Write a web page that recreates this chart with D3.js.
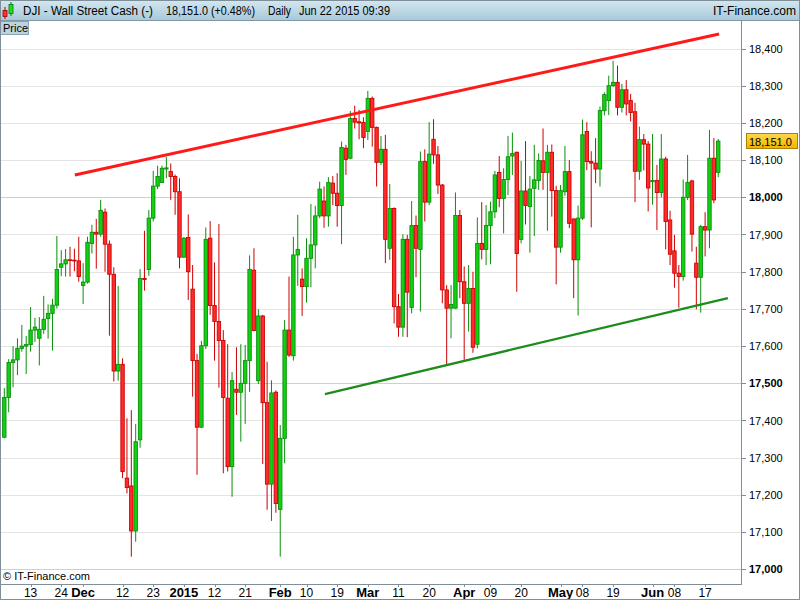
<!DOCTYPE html>
<html>
<head>
<meta charset="utf-8">
<script src="https://cdn.jsdelivr.net/npm/d3@7"></script>
<style>
html,body{margin:0;padding:0;background:#fff;}
svg{display:block;font-family:Arial,"Liberation Sans",sans-serif;}
</style>
</head>
<body>
<svg id="chart" width="800" height="600"></svg>
<script>
// ---------------- DATA ----------------
const firstDay = "2014-11-05";
const lastDay = "2015-06-22";
const opens = [17355,17462,17556,17563,17594,17600,17604,17643,17621,17645,17674,17688,17710,17812,17821,17832,17831,17829,17763,17772,
17876,17906,17901,17960,17874,17793,17533,17551,17245,17224,17103,17348,17782,17806,17944,18030,18040,18076,18069,18056,
18015,17839,17892,17753,17561,17382,17601,17890,17709,17666,17615,17460,17276,17484,17476,17500,17561,17804,17507,17681,
17448,17229,17476,17161,17352,17643,17574,17845,17780,17760,17836,17872,17950,17990,17950,18038,18011,17978,18132,18105,
18212,18203,18201,18177,18266,18188,18094,18129,17863,17970,17706,17651,17887,17704,17924,17860,18096,17987,18156,18114,
18033,17751,17702,17702,17951,17773,17715,17755,17605,17876,17860,17924,17961,18067,17997,18048,18111,18121,17887,18017,
17975,18024,18045,18098,18067,18121,18018,17866,18015,18069,17942,17832,17944,18177,18096,18092,18076,18233,18260,18300,
18309,18242,18289,18260,18230,18070,18155,18143,18042,18045,18013,18103,17939,17856,17796,17787,18000,18044,17823,17785,
17921,17912,18105,18067];
const highs = [17487,17565,17600,17621,17657,17627,17705,17676,17678,17735,17712,17727,17896,17858,17861,17867,17862,17894,17823,17894,
17926,17942,17993,17970,17884,17812,17762,17567,17406,17428,17391,17807,17910,17966,18071,18085,18085,18109,18091,18061,
18051,17893,17954,17818,17579,17614,17919,17936,17825,17928,17643,17605,17530,17597,17605,17603,17844,17863,17699,17684,
17558,17508,17481,17388,17670,17787,17894,17953,17809,17890,17982,17977,18042,18029,18054,18057,18065,18150,18141,18232,
18246,18235,18215,18286,18271,18190,18165,18168,18036,17973,17740,17901,17899,17990,17951,18123,18129,18202,18210,18138,
18036,17764,17764,18013,17966,17814,17818,17800,17946,17987,17979,17988,18071,18111,18078,18165,18174,18123,18098,18151,
18057,18141,18118,18185,18141,18142,18031,18033,18138,18100,17942,17978,18209,18202,18124,18159,18244,18282,18327,18367,
18354,18305,18315,18278,18254,18190,18170,18151,18170,18087,18170,18109,17964,17899,17818,18048,18114,18047,17867,17926,
17960,18181,18159,18157];
const lows = [17352,17422,17489,17522,17585,17525,17585,17611,17548,17633,17620,17588,17701,17788,17787,17787,17801,17773,17713,17768,
17849,17808,17894,17800,17628,17505,17507,17245,17204,17034,17074,17327,17749,17789,17935,18022,18039,18051,17993,17953,
17809,17838,17724,17464,17254,17380,17592,17684,17561,17488,17258,17263,17195,17415,17343,17391,17477,17640,17498,17283,
17160,17130,17152,17034,17285,17571,17561,17762,17681,17717,17758,17809,17944,17918,17921,17979,17921,17874,18060,18102,
18185,18156,18132,18154,18136,18029,18087,17823,17832,17661,17625,17625,17624,17688,17785,17693,17935,17979,18090,18009,
17715,17549,17621,17700,17729,17563,17639,17582,17594,17833,17818,17820,17944,17973,17903,18006,18060,17746,17876,17927,
17851,17896,18020,18020,17910,17948,17766,17851,18004,17917,17729,17682,17939,18073,17919,18038,18029,18220,18221,18297,
18220,18228,18220,18204,17987,18047,18072,17962,17980,17912,18000,17860,17818,17757,17703,17776,17993,17854,17699,17690,
17841,17863,17984,18054];
const closes = [17462,17556,17563,17594,17600,17604,17643,17651,17645,17672,17688,17710,17806,17821,17832,17830,17829,17787,17772,17879,
17906,17901,17965,17874,17793,17533,17551,17263,17220,17103,17343,17782,17779,17944,18030,18056,18078,18079,18056,18015,
17839,17890,17800,17561,17382,17601,17887,17709,17666,17615,17462,17276,17507,17476,17500,17561,17806,17642,17681,17448,
17229,17474,17177,17352,17643,17576,17845,17860,17760,17836,17872,17950,18022,17950,18040,18011,17978,18134,18102,18212,
18202,18200,18161,18266,18188,18094,18129,17887,17970,17706,17651,17887,17745,17924,17863,18096,17987,18116,18114,18033,
17751,17702,17712,17951,17773,17715,17755,17597,17876,17860,17924,17961,18060,17997,18048,18109,18118,17849,18017,17978,
18022,18047,18099,18067,18121,18018,17866,18018,18069,17930,17832,17944,18168,18096,18092,18076,18233,18276,18300,18309,
18242,18289,18251,18228,18070,18155,18143,18025,18045,18013,18103,17935,17847,17796,17787,18000,18040,17901,17785,17921,
17912,18105,17993,18151];

const priceTicks = [17000,17100,17200,17300,17400,17500,17600,17700,17800,17900,18000,18100,18200,18300,18400];
const majorPriceTicks = [17000,17500,18000];
const dateTicks = ["2014-11-13","2014-11-24","2014-12-01","2014-12-12","2014-12-23","2015-01-01","2015-01-12","2015-01-21",
"2015-02-02","2015-02-10","2015-02-19","2015-03-02","2015-03-11","2015-03-20","2015-04-01","2015-04-09","2015-04-20",
"2015-05-01","2015-05-08","2015-05-19","2015-06-01","2015-06-08","2015-06-17"];
const dateTickLabels = ["13","24","Dec","12","23","2015","12","21","Feb","10","19","Mar","11","20","Apr","09","20","May","08","19","Jun","08","17"];
const boldDateLabels = ["Dec","2015","Feb","Mar","Apr","May","Jun"];
// trend lines: [day index, price]
const resistanceLine = [[16.1, 18060],[163.2, 18439]];
const supportLine = [[73.2, 17471],[165.2, 17729]];
const lastPrice = 18151.0;
const titleParts = ["DJI - Wall Street Cash (-)", "18,151.0 (+0.48%)", "Daily", "Jun 22 2015 09:39"];

// ---------------- BUILD ----------------
const parse = d3.timeParse("%Y-%m-%d");
const fmtKey = d3.timeFormat("%Y-%m-%d");
const days = d3.timeDay.range(parse(firstDay), d3.timeDay.offset(parse(lastDay),1))
  .filter(d => d.getDay() !== 0 && d.getDay() !== 6).map(fmtKey);
const candles = opens.map((o,i) => ({i, date: days[i], o, h: highs[i], l: lows[i], c: closes[i]}));

const W = 800, H = 600;
const plotL = 0, plotR = 741, plotT = 20, plotB = 584;
const svg = d3.select("#chart");

const x = d3.scaleLinear().domain([0, candles.length - 1]).range([4.3, 4.3 + 4.38*(candles.length-1)]);
const y = d3.scaleLinear().domain([17000, 18400]).range([569.3, 48.5]);

svg.append("rect").attr("width",W).attr("height",H).attr("fill","#fff");

const defs = svg.append("defs");
const g1 = defs.append("linearGradient").attr("id","hdr").attr("x1",0).attr("y1",0).attr("x2",0).attr("y2",1);
g1.append("stop").attr("offset","0%").attr("stop-color","#d3e7f0");
g1.append("stop").attr("offset","100%").attr("stop-color","#a9c9d9");
const g2 = defs.append("linearGradient").attr("id","gold").attr("x1",0).attr("y1",0).attr("x2",0).attr("y2",1);
g2.append("stop").attr("offset","0%").attr("stop-color","#ffd84a");
g2.append("stop").attr("offset","100%").attr("stop-color","#f0b400");
defs.append("clipPath").attr("id","plotclip").append("rect")
  .attr("x",plotL).attr("y",plotT).attr("width",plotR-plotL).attr("height",plotB-plotT);

// gridlines
svg.append("g").selectAll("line").data(priceTicks).join("line")
  .attr("x1",plotL).attr("x2",plotR)
  .attr("y1",d=>Math.round(y(d))+0.5).attr("y2",d=>Math.round(y(d))+0.5)
  .attr("stroke",d=>majorPriceTicks.includes(d)?"#cfcfcf":"#e4e4e4").attr("stroke-width",1);

// candles
const plot = svg.append("g").attr("clip-path","url(#plotclip)");
const up = d => d.c >= d.o;
const cg = plot.selectAll("g.c").data(candles).join("g").attr("class","c");
cg.append("line")
  .attr("x1",d=>x(d.i)).attr("x2",d=>x(d.i))
  .attr("y1",d=>y(d.h)).attr("y2",d=>y(d.l))
  .attr("stroke",d=>up(d)?"#0a8f0a":"#cc0000").attr("stroke-width",1);
cg.append("rect")
  .attr("x",d=>x(d.i)-1.7).attr("width",3.4)
  .attr("y",d=>y(Math.max(d.o,d.c)))
  .attr("height",d=>Math.max(0.6, y(Math.min(d.o,d.c)) - y(Math.max(d.o,d.c))))
  .attr("fill",d=>up(d)?"#12d012":"#ff2c2c")
  .attr("stroke",d=>up(d)?"#0a8f0a":"#cc0000").attr("stroke-width",0.9);

// trend lines
const tl = d3.line().x(d=>x(d[0])).y(d=>y(d[1]));
plot.append("path").datum(resistanceLine).attr("d",tl).attr("stroke","#ff1a1a").attr("stroke-width",3).attr("fill","none");
plot.append("path").datum(supportLine).attr("d",tl).attr("stroke","#1c8c1c").attr("stroke-width",2.2).attr("fill","none");

// header
svg.append("rect").attr("x",0).attr("y",0).attr("width",W).attr("height",20).attr("fill","url(#hdr)");
svg.append("line").attr("x1",0).attr("x2",W).attr("y1",20.5).attr("y2",20.5).attr("stroke","#7f98a6");
const icon = svg.append("g");
icon.append("line").attr("x1",5).attr("x2",5).attr("y1",7).attr("y2",19).attr("stroke","#b00000");
icon.append("rect").attr("x",3).attr("y",10.5).attr("width",4).attr("height",6).attr("fill","#ff3030").attr("stroke","#a00000").attr("stroke-width",0.8);
icon.append("line").attr("x1",11).attr("x2",11).attr("y1",2).attr("y2",16).attr("stroke","#007a00");
icon.append("rect").attr("x",9).attr("y",4.5).attr("width",4).attr("height",9).attr("fill","#22dd22").attr("stroke","#007a00").attr("stroke-width",0.8);
const hx = [23, 166, 268, 299];
const hw = [130, 89, 23, 91];
svg.append("g").selectAll("text").data(titleParts).join("text")
  .attr("x",(d,i)=>hx[i]).attr("y",15).attr("font-size",12).attr("fill","#000")
  .attr("textLength",(d,i)=>hw[i]).attr("lengthAdjust","spacingAndGlyphs").text(d=>d);
svg.append("text").attr("x",713).attr("y",15).attr("font-size",12).attr("fill","#000")
  .attr("textLength",83).attr("lengthAdjust","spacingAndGlyphs").text("IT-Finance.com");

// Price label box
svg.append("rect").attr("x",0.5).attr("y",21.5).attr("width",28).attr("height",13).attr("fill","#bcd3de").attr("stroke","#8aa3b0");
svg.append("text").attr("x",3).attr("y",32).attr("font-size",11).attr("fill","#000").text("Price");

// right axis
svg.append("line").attr("x1",plotR+0.5).attr("x2",plotR+0.5).attr("y1",21).attr("y2",plotB).attr("stroke","#7f8f9a");
const ya = svg.append("g");
ya.selectAll("line").data(priceTicks).join("line")
  .attr("x1",plotR).attr("x2",plotR+5)
  .attr("y1",d=>Math.round(y(d))+0.5).attr("y2",d=>Math.round(y(d))+0.5).attr("stroke","#7f8f9a");
ya.selectAll("text").data(priceTicks).join("text")
  .attr("x",plotR+8).attr("y",d=>y(d)+4).attr("font-size",11)
  .attr("font-weight",d=>majorPriceTicks.includes(d)?"bold":"normal")
  .attr("fill","#000").text(d=>d3.format(",")(d));

// last price box
svg.append("rect").attr("x",plotR+5.5).attr("y",Math.round(y(lastPrice))-7.5).attr("width",51).attr("height",15)
  .attr("fill","url(#gold)").attr("stroke","#b08000");
svg.append("text").attr("x",plotR+8).attr("y",y(lastPrice)+4.5).attr("font-size",11).attr("fill","#000")
  .text(d3.format(",.1f")(lastPrice));

// bottom axis
svg.append("line").attr("x1",0).attr("x2",plotR+1).attr("y1",plotB+0.5).attr("y2",plotB+0.5).attr("stroke","#7f8f9a");
const idxOf = k => days.indexOf(k);
const xa = svg.append("g");
xa.selectAll("line").data(dateTicks).join("line")
  .attr("x1",d=>Math.round(x(idxOf(d)))+0.5).attr("x2",d=>Math.round(x(idxOf(d)))+0.5)
  .attr("y1",plotB).attr("y2",plotB+3).attr("stroke","#7f8f9a");
xa.selectAll("text").data(dateTicks).join("text")
  .attr("x",d=>x(idxOf(d))).attr("y",597).attr("text-anchor","middle")
  .attr("font-size",(d,i)=>boldDateLabels.includes(dateTickLabels[i])?13:12)
  .attr("font-weight",(d,i)=>boldDateLabels.includes(dateTickLabels[i])?"bold":"normal")
  .attr("fill","#000").text((d,i)=>dateTickLabels[i]);

svg.append("text").attr("x",3).attr("y",580).attr("font-size",11).attr("fill","#000").text("© IT-Finance.com");

svg.append("rect").attr("x",0.5).attr("y",0.5).attr("width",W-1).attr("height",H-1).attr("fill","none").attr("stroke","#7f8f9a");
</script>
</body>
</html>
